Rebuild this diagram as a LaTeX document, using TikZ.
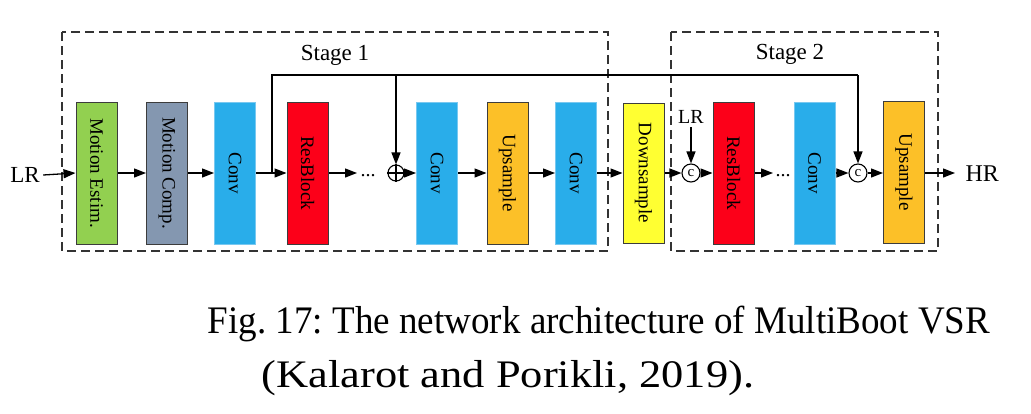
\documentclass[tikz,border=0pt]{standalone}
\usepackage{fontspec}
\setmainfont{Liberation Serif}
\usetikzlibrary{arrows.meta,calc}
\definecolor{cgreen}{RGB}{146,208,80}
\definecolor{cgrey}{RGB}{132,151,176}
\definecolor{cblue}{RGB}{41,173,234}
\definecolor{cblueb}{RGB}{120,200,240}
\definecolor{cred}{RGB}{252,0,25}
\definecolor{corange}{RGB}{252,192,40}
\definecolor{cyellow}{RGB}{255,255,50}
\definecolor{bord}{RGB}{60,60,60}
\newcommand{\btxtf}{\fontsize{19}{22}\selectfont}
\tikzset{
  blk/.style={draw=bord, line width=1pt, minimum width=41pt, minimum height=142pt, inner sep=0pt},
  arr/.style={line width=1.3pt, -{Triangle[length=12pt,width=9pt]}},
  ln/.style={line width=1.3pt},
  stagebox/.style={draw=black!80, dashed, dash pattern=on 9pt off 5pt, line width=1.3pt},
  circ/.style={draw, circle, line width=1.1pt, inner sep=0pt, minimum size=18pt},
  captxt/.style={font=\fontsize{39}{44}\selectfont\frenchspacing, xscale=0.95, transform shape, anchor=base},
}
\begin{document}
\begin{tikzpicture}[x=1pt,y=-1pt]
\useasboundingbox (0,0) rectangle (1031,413);
% stage boxes
\draw[stagebox] (62,32) rectangle (608,251);
\draw[stagebox] (671,32) rectangle (938,251);
\node[font=\fontsize{23}{26}\selectfont] (s1) at (335,55) {Stage 1};
\node[font=\fontsize{23}{26}\selectfont] (s2) at (790,54) {Stage 2};
% blocks
\node[blk, fill=cgreen] (me) at (96.5,173) {\rotatebox{-90}{\btxtf Motion Estim.}};
\node[blk, fill=cgrey] (mc) at (167,173) {\rotatebox{-90}{\btxtf Motion Comp.}};
\node[blk, fill=cblue, draw=cblueb] (c1) at (235,173) {\rotatebox{-90}{\btxtf Conv}};
\node[blk, fill=cred] (rb1) at (307.5,173) {\rotatebox{-90}{\btxtf ResBlock}};
\node[blk, fill=cblue, draw=cblueb] (c2) at (437,173) {\rotatebox{-90}{\btxtf Conv}};
\node[blk, fill=corange] (up1) at (507.5,173) {\rotatebox{-90}{\btxtf Upsample}};
\node[blk, fill=cblue, draw=cblueb] (c3) at (576,173) {\rotatebox{-90}{\btxtf Conv}};
\node[blk, fill=cyellow, minimum height=140pt] (ds) at (643.5,173) {\rotatebox{-90}{\btxtf Downsample}};
\node[blk, fill=cred] (rb2) at (733.5,173) {\rotatebox{-90}{\btxtf ResBlock}};
\node[blk, fill=cblue, draw=cblueb] (c4) at (814.5,173) {\rotatebox{-90}{\btxtf Conv}};
\node[blk, fill=corange] (up2) at (904,172) {\rotatebox{-90}{\btxtf Upsample}};
% circles
\node[circ, minimum size=16pt] (op) at (396,173) {};
\draw[line width=1.1pt] (op.north) -- (op.south) (op.west) -- (op.east);
\node[circ] (cc1) at (691,173) {\fontsize{15}{15}\selectfont c};
\node[circ] (cc2) at (858,173) {\fontsize{15}{15}\selectfont c};
% texts
\node[font=\fontsize{23}{26}\selectfont] (lr) at (25,175) {LR};
\node[font=\fontsize{20}{22}\selectfont] (lr2) at (691,117) {LR};
\node[font=\fontsize{24}{26}\selectfont, anchor=west] (hr) at (962,174) {HR};
\node[font=\fontsize{20}{20}\selectfont] (d1) at (368,176) {...};
\node[font=\fontsize{20}{20}\selectfont] (d2) at (783,176) {...};
\coordinate (e1) at (357,173);
\coordinate (e2) at (773,173);
\coordinate (hre) at (955,173);
% connectors
\draw[arr] (lr.east) -- (me.west);
\draw[arr] (me) -- (mc);
\draw[arr] (mc) -- (c1);
\draw[arr] (c1) -- (rb1);
\draw[arr] (rb1.east) -- (e1);
\draw[arr] (op.east) -- (c2.west);
\draw[arr] (c2) -- (up1);
\draw[arr] (up1) -- (c3);
\draw[arr] (c3) -- (ds);
\draw[arr] (ds.east |- cc1) -- (cc1.west);
\draw[arr] (cc1.east) -- (rb2.west |- cc1);
\draw[arr] (rb2.east |- cc1) -- (e2);
\draw[arr] (c4.east |- cc2) -- (cc2.west);
\draw[arr] (cc2.east) -- (up2.west |- cc2);
\draw[arr] (up2.east |- cc2) -- (hre);
\draw[arr] (lr2.south) -- (cc1.north);
% skip connections
\coordinate (sk) at (272,173);
\draw[ln] (sk) -- (272,75) -- (858,75);
\draw[arr] (858,75) -- (cc2.north);
\draw[arr] (396,75) -- (op.north);
% caption
\node[captxt] (cap1) at (599,333) {Fig. 17: The network architecture of MultiBoot VSR};
\node[captxt, xscale=1.2] (cap2) at (508,387) {(Kalarot and Porikli, 2019).};
\end{tikzpicture}
\end{document}
